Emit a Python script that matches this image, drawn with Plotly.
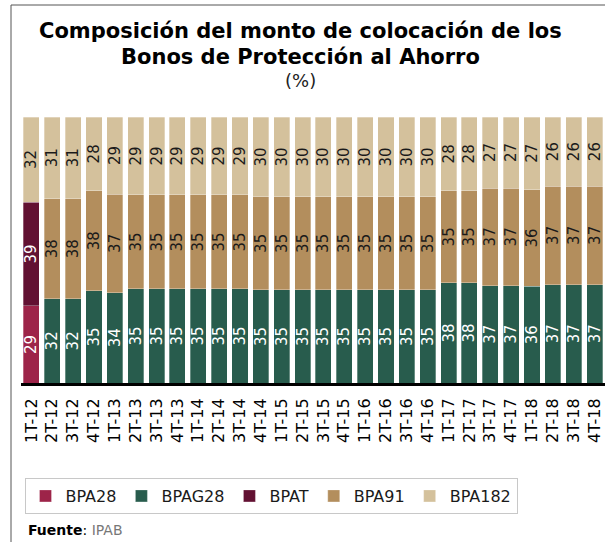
import plotly.graph_objects as go

categories = ["1T-12", "2T-12", "3T-12", "4T-12",
              "1T-13", "2T-13", "3T-13", "4T-13",
              "1T-14", "2T-14", "3T-14", "4T-14",
              "1T-15", "2T-15", "3T-15", "4T-15",
              "1T-16", "2T-16", "3T-16", "4T-16",
              "1T-17", "2T-17", "3T-17", "4T-17",
              "1T-18", "2T-18", "3T-18", "4T-18"]

bpa28 = [29] + [None] * 27
bpat = [39] + [None] * 27
bpag28 = [None, 32, 32, 35, 34, 35, 35, 35, 35, 35, 35, 35, 35, 35,
          35, 35, 35, 35, 35, 35, 38, 38, 37, 37, 36, 37, 37, 37]
bpa91 = [None, 38, 38, 38, 37, 35, 35, 35, 35, 35, 35, 35, 35, 35,
         35, 35, 35, 35, 35, 35, 35, 35, 37, 37, 36, 37, 37, 37]
bpa182 = [32, 31, 31, 28, 29, 29, 29, 29, 29, 29, 29, 30, 30, 30,
          30, 30, 30, 30, 30, 30, 28, 28, 27, 27, 27, 26, 26, 26]

series = [
    ("BPA28", bpa28, "#9D2449", "white"),
    ("BPAG28", bpag28, "#285C4D", "white"),
    ("BPAT", bpat, "#621132", "white"),
    ("BPA91", bpa91, "#B38E5D", "#1a1a1a"),
    ("BPA182", bpa182, "#D4C19C", "#1a1a1a"),
]

FONT = "DejaVu Sans"

fig = go.Figure()
for name, vals, color, tcolor in series:
    fig.add_trace(go.Bar(
        x=categories, y=vals, name=name,
        marker=dict(color=color, line=dict(color="rgba(255,255,255,0.6)", width=0.5)),
        text=vals, texttemplate="%{text}",
        textposition="inside", insidetextanchor="middle",
        textangle=-90, constraintext="none",
        textfont=dict(family=FONT, size=15, color=tcolor),
        hoverinfo="skip",
    ))

# pixel -> paper helpers
L, R, T, B = 21, 0, 117, 159
W, H = 605, 542
pw, ph = W - L - R, H - T - B
def px(x):
    return (x - L) / pw
def py(y):
    return (H - B - y) / ph

fig.update_layout(
    width=W, height=H,
    margin=dict(l=L, r=R, t=T, b=B, pad=0),
    barmode="stack", barnorm="percent", bargap=0.23,
    paper_bgcolor="white", plot_bgcolor="white",
    font=dict(family=FONT, color="black"),
    showlegend=True,
    legend=dict(
        orientation="h", x=px(271), xanchor="center", y=py(478), yanchor="top",
        bordercolor="#c8c8c8", borderwidth=1,
        font=dict(family=FONT, size=16, color="#1a1a1a"),
        traceorder="normal",
    ),
    xaxis=dict(
        type="category", range=[-0.5, 27.5],
        showline=True, linecolor="black", linewidth=3,
        ticks="", tickangle=-90, ticklabelstandoff=6,
        tickfont=dict(family=FONT, size=16, color="black"),
        showgrid=False, zeroline=False,
    ),
    yaxis=dict(range=[0, 100], visible=False, showgrid=False, zeroline=False),
    shapes=[
        dict(type="line", xref="paper", yref="paper", x0=px(11), x1=px(W + 5),
             y0=py(5), y1=py(5), line=dict(color="#555555", width=1)),
        dict(type="line", xref="paper", yref="paper", x0=px(11), x1=px(11),
             y0=py(5), y1=py(H + 5), line=dict(color="#555555", width=1)),
    ],
    annotations=[
        dict(text="<b>Composición del monto de colocación de los</b>", x=px(300), y=py(31),
             xref="paper", yref="paper", xanchor="center", yanchor="middle", showarrow=False,
             font=dict(family=FONT, size=21, color="black")),
        dict(text="<b>Bonos de Protección al Ahorro</b>", x=px(300), y=py(57),
             xref="paper", yref="paper", xanchor="center", yanchor="middle", showarrow=False,
             font=dict(family=FONT, size=21, color="black")),
        dict(text="(%)", x=px(300), y=py(80),
             xref="paper", yref="paper", xanchor="center", yanchor="middle", showarrow=False,
             font=dict(family=FONT, size=18, color="#222222")),
        dict(text="<b>Fuente</b>: <span style='color:#777777'>IPAB</span>", x=px(26), y=py(530),
             xref="paper", yref="paper", xanchor="left", yanchor="middle", showarrow=False,
             font=dict(family=FONT, size=14, color="black")),
    ],
)

fig.write_html(
    "out.html",
    config={"displayModeBar": False},
    post_script="document.body.style.margin='0';document.body.style.padding='0';"
                "document.body.style.overflow='hidden';",
)
